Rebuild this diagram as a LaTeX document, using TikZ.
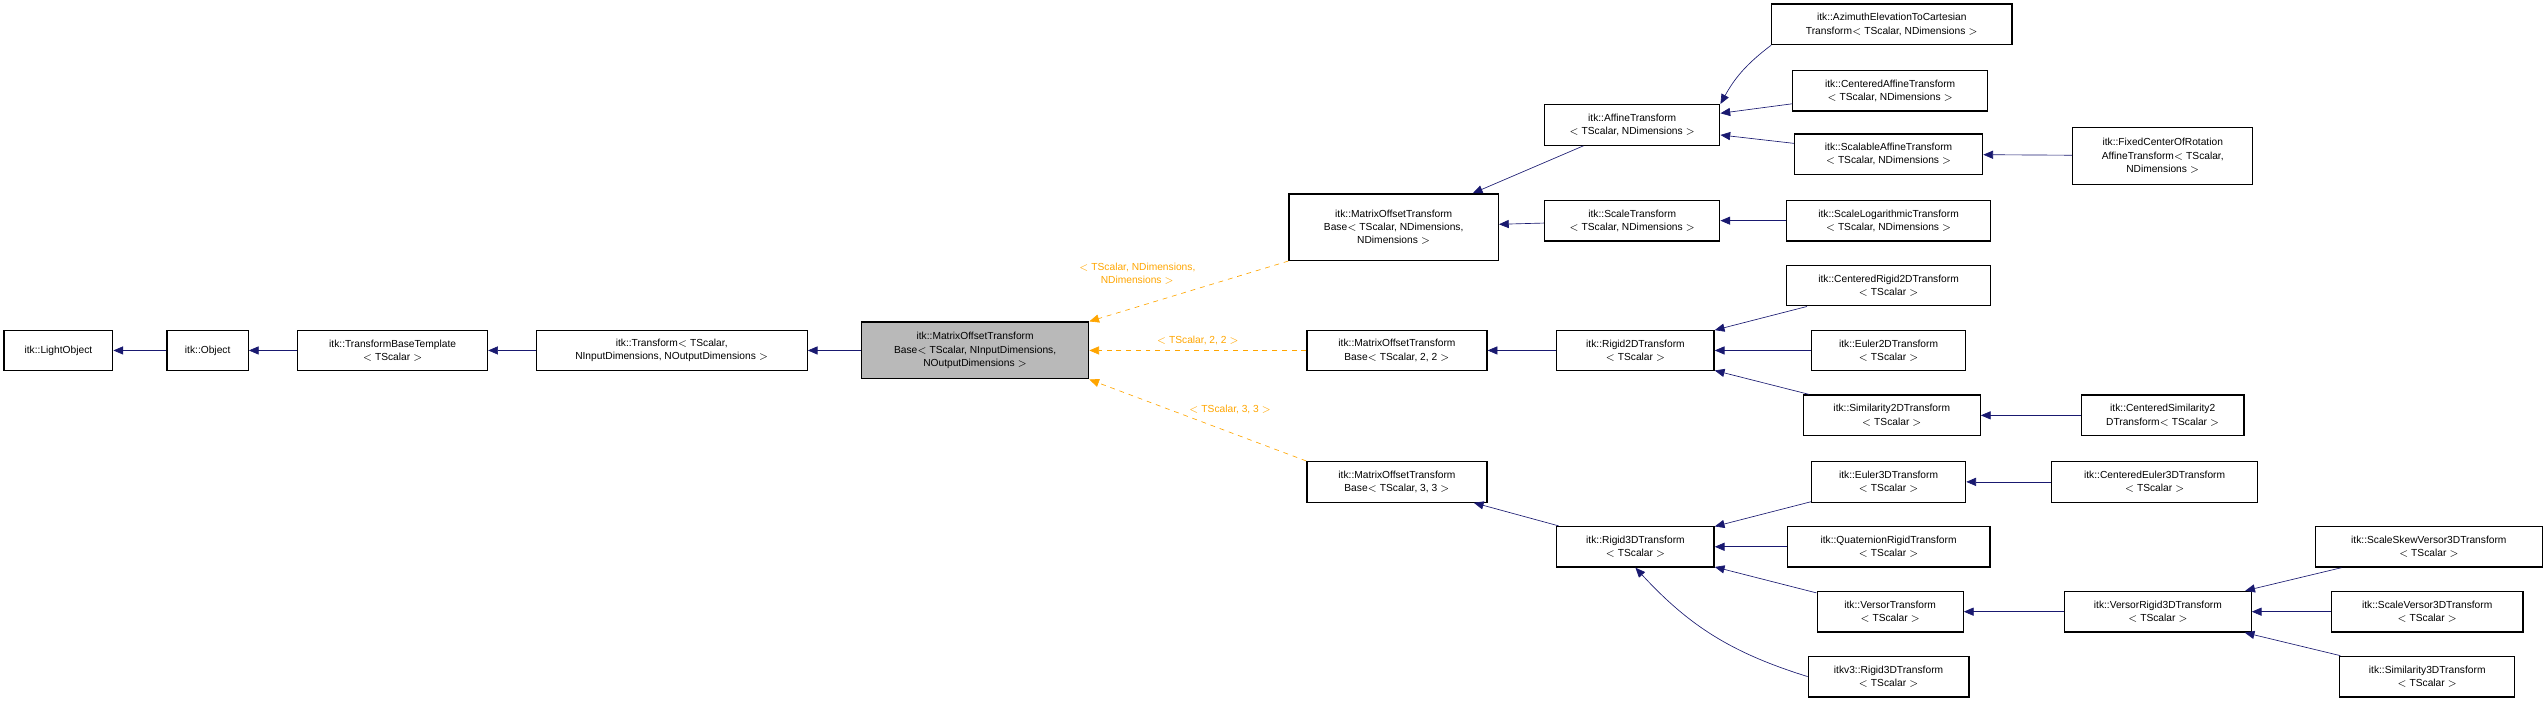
\documentclass[tikz,border=0pt]{standalone}
\usepackage{fontspec}
\setmainfont{Liberation Sans}
\usetikzlibrary{arrows.meta, positioning}

\definecolor{edgeblue}{RGB}{25,25,112}
\definecolor{tmplorange}{RGB}{255,165,0}

\tikzset{
    cls/.style={draw, thick, fill=white, align=center, inner sep=1pt,
        minimum height=25pt, font=\fontsize{6.3}{8.2}\selectfont},
    inh/.style={edgeblue, -{Triangle[length=6pt,width=5pt]}},
    tmpl/.style={tmplorange, dashed, -{Triangle[length=6pt,width=5pt]}},
    lbl/.style={align=center, font=\fontsize{6.3}{8.2}\selectfont}
}

\begin{document}
\begin{tikzpicture}[x=1pt, y=-1pt]
\useasboundingbox (0,0) rectangle (1568,434);

% Base chain
\node[cls, minimum width=67]  (light) at (36,216) {itk::LightObject};
\node[cls, minimum width=50]  (obj) at (128,216) {itk::Object};
\node[cls, minimum width=117] (tbt) at (242,216) {itk::TransformBaseTemplate\\$<$ TScalar $>$};
\node[cls, minimum width=167] (trf) at (414,216) {itk::Transform$<$ TScalar,\\NInputDimensions, NOutputDimensions $>$};
\node[cls, minimum width=140, minimum height=35, fill=gray!55] (motb) at (601,216)
    {itk::MatrixOffsetTransform\\Base$<$ TScalar, NInputDimensions,\\NOutputDimensions $>$};

% Template instances
\node[cls, minimum width=129, minimum height=41] (motbnd) at (859,140)
    {itk::MatrixOffsetTransform\\Base$<$ TScalar, NDimensions,\\NDimensions $>$};
\node[cls, minimum width=111] (motb22) at (861,216) {itk::MatrixOffsetTransform\\Base$<$ TScalar, 2, 2 $>$};
\node[cls, minimum width=111] (motb33) at (861,297) {itk::MatrixOffsetTransform\\Base$<$ TScalar, 3, 3 $>$};

% N-dimensional branch
\node[cls, minimum width=108] (affine) at (1006,77) {itk::AffineTransform\\$<$ TScalar, NDimensions $>$};
\node[cls, minimum width=108] (scale) at (1006,136) {itk::ScaleTransform\\$<$ TScalar, NDimensions $>$};
\node[cls, minimum width=148] (azim) at (1166,15) {itk::AzimuthElevationToCartesian\\Transform$<$ TScalar, NDimensions $>$};
\node[cls, minimum width=120] (caffine) at (1165,56) {itk::CenteredAffineTransform\\$<$ TScalar, NDimensions $>$};
\node[cls, minimum width=116] (saffine) at (1164,95) {itk::ScalableAffineTransform\\$<$ TScalar, NDimensions $>$};
\node[cls, minimum width=111, minimum height=35] (fixed) at (1333,96) {itk::FixedCenterOfRotation\\AffineTransform$<$ TScalar,\\NDimensions $>$};
\node[cls, minimum width=126] (scalelog) at (1164,136) {itk::ScaleLogarithmicTransform\\$<$ TScalar, NDimensions $>$};

% 2D branch
\node[cls, minimum width=97]  (rigid2) at (1008,216) {itk::Rigid2DTransform\\$<$ TScalar $>$};
\node[cls, minimum width=126] (crigid2) at (1164,176) {itk::CenteredRigid2DTransform\\$<$ TScalar $>$};
\node[cls, minimum width=95]  (euler2) at (1164,216) {itk::Euler2DTransform\\$<$ TScalar $>$};
\node[cls, minimum width=109] (sim2) at (1166,256) {itk::Similarity2DTransform\\$<$ TScalar $>$};
\node[cls, minimum width=100] (csim2) at (1333,256) {itk::CenteredSimilarity2\\DTransform$<$ TScalar $>$};

% 3D branch
\node[cls, minimum width=97]  (rigid3) at (1008,337) {itk::Rigid3DTransform\\$<$ TScalar $>$};
\node[cls, minimum width=95]  (euler3) at (1164,297) {itk::Euler3DTransform\\$<$ TScalar $>$};
\node[cls, minimum width=127] (ceuler3) at (1328,297) {itk::CenteredEuler3DTransform\\$<$ TScalar $>$};
\node[cls, minimum width=125] (quat) at (1164,337) {itk::QuaternionRigidTransform\\$<$ TScalar $>$};
\node[cls, minimum width=90]  (versor) at (1165,377) {itk::VersorTransform\\$<$ TScalar $>$};
\node[cls, minimum width=99]  (v3rigid) at (1164,417) {itkv3::Rigid3DTransform\\$<$ TScalar $>$};
\node[cls, minimum width=115] (vrigid3) at (1330,377) {itk::VersorRigid3DTransform\\$<$ TScalar $>$};
\node[cls, minimum width=140] (skew) at (1497,337) {itk::ScaleSkewVersor3DTransform\\$<$ TScalar $>$};
\node[cls, minimum width=118] (sversor) at (1496,377) {itk::ScaleVersor3DTransform\\$<$ TScalar $>$};
\node[cls, minimum width=108] (sim3) at (1496,417) {itk::Similarity3DTransform\\$<$ TScalar $>$};

% Inheritance
\draw[inh] (obj) -- (light);
\draw[inh] (tbt) -- (obj);
\draw[inh] (trf) -- (tbt);
\draw[inh] (motb) -- (trf);

\draw[tmpl] (motbnd.south west) -- (motb.north east) node[lbl, pos=0.45, above left=-2pt] {$<$ TScalar, NDimensions,\\NDimensions $>$};
\draw[tmpl] (motb22) -- (motb) node[lbl, pos=0.5, above] {$<$ TScalar, 2, 2 $>$};
\draw[tmpl] (motb33.north west) -- (motb.south east) node[lbl, pos=0.55, above right=-3pt] {$<$ TScalar, 3, 3 $>$};

\draw[inh] (affine) -- (motbnd);
\draw[inh] (scale) -- (motbnd);
\draw[inh] (azim.south west) to[bend right=12] (affine.north east);
\draw[inh] (caffine) -- (affine);
\draw[inh] (saffine) -- (affine);
\draw[inh] (fixed) -- (saffine);
\draw[inh] (scalelog) -- (scale);

\draw[inh] (rigid2) -- (motb22);
\draw[inh] (crigid2) -- (rigid2);
\draw[inh] (euler2) -- (rigid2);
\draw[inh] (sim2) -- (rigid2);
\draw[inh] (csim2) -- (sim2);

\draw[inh] (rigid3) -- (motb33);
\draw[inh] (euler3) -- (rigid3);
\draw[inh] (ceuler3) -- (euler3);
\draw[inh] (quat) -- (rigid3);
\draw[inh] (versor) -- (rigid3);
\draw[inh] (v3rigid.west) to[bend left=15] (rigid3.south);
\draw[inh] (vrigid3) -- (versor);
\draw[inh] (skew) -- (vrigid3);
\draw[inh] (sversor) -- (vrigid3);
\draw[inh] (sim3) -- (vrigid3);
\end{tikzpicture}
\end{document}
